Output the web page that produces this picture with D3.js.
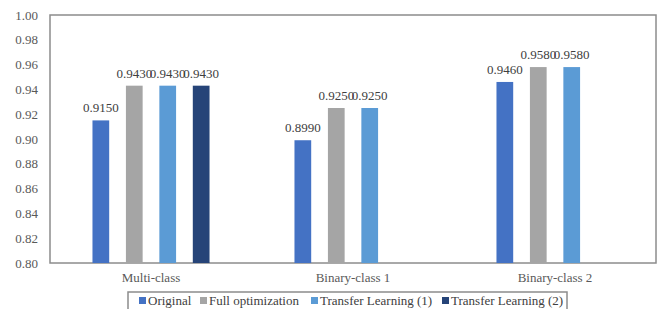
<!DOCTYPE html>
<html>
<head>
<meta charset="utf-8">
<script src="https://cdn.jsdelivr.net/npm/d3@7"></script>
<style>
  body { margin: 0; background: #fff; }
  svg text { font-family: "Liberation Serif", "Times New Roman", serif !important; }
</style>
</head>
<body>
<svg></svg>
<script>
//Chart data.
var categories = ["Multi-class", "Binary-class 1", "Binary-class 2"];
var series = ["Original", "Full optimization", "Transfer Learning (1)", "Transfer Learning (2)"];
var colors = ["#4472C4", "#A5A5A5", "#5B9BD5", "#264478"];
//One row per category, one value per series (null = no bar).
var values = [
  [0.915, 0.943, 0.943, 0.943],
  [0.899, 0.925, 0.925, null],
  [0.946, 0.958, 0.958, null]
];
var yTicks = [0.80, 0.82, 0.84, 0.86, 0.88, 0.90, 0.92, 0.94, 0.96, 0.98, 1.00];

var w = 661, h = 309;
var plot = {left: 50, right: 656, top: 15, bottom: 263};

var svg = d3.select("svg").attr("width", w).attr("height", h);

var x0 = d3.scaleBand().domain(categories).range([plot.left, plot.right]);
var x1 = d3.scaleBand().domain(series).range([0, x0.bandwidth()])
  .paddingInner(0.5).paddingOuter(1.27);
var y = d3.scaleLinear().domain([0.8, 1.0]).range([plot.bottom, plot.top]);

//Plot area frame.
svg.append("rect")
  .attr("x", plot.left).attr("y", plot.top)
  .attr("width", plot.right - plot.left).attr("height", plot.bottom - plot.top)
  .attr("fill", "none").attr("stroke", "#8c8c8c").attr("stroke-width", 1.5);

//Y axis labels only (no ticks drawn).
var yAxis = svg.append("g")
  .attr("transform", "translate(" + plot.left + ",0)")
  .call(d3.axisLeft(y).tickValues(yTicks).tickFormat(d3.format(".2f")).tickSize(0).tickPadding(12));
yAxis.select(".domain").remove();
yAxis.selectAll("text").attr("fill", "#595959").attr("font-size", 13);

//X axis category labels.
var xAxis = svg.append("g")
  .attr("transform", "translate(0," + plot.bottom + ")")
  .call(d3.axisBottom(x0).tickSize(0).tickPadding(10));
xAxis.select(".domain").remove();
xAxis.selectAll("text").attr("fill", "#595959").attr("font-size", 13);

//Flatten into bar records.
var bars = [];
categories.forEach((c, ci) => {
  series.forEach((s, si) => {
    if (values[ci][si] != null) bars.push({cat: c, ser: s, si: si, v: values[ci][si]});
  });
});

svg.append("g").selectAll("rect")
  .data(bars)
  .enter().append("rect")
    .attr("x", d => x0(d.cat) + x1(d.ser))
    .attr("y", d => y(d.v))
    .attr("width", x1.bandwidth())
    .attr("height", d => plot.bottom - y(d.v))
    .attr("fill", d => colors[d.si]);

svg.append("g").selectAll("text")
  .data(bars)
  .enter().append("text")
    .text(d => d.v.toFixed(4))
    .attr("x", d => x0(d.cat) + x1(d.ser) + x1.bandwidth() / 2)
    .attr("y", d => y(d.v) - 8)
    .attr("text-anchor", "middle")
    .attr("font-size", 13)
    .attr("fill", "#404040");

//Legend with a box, at the bottom.
var legend = svg.append("g");
var legendX = [139, 200, 311, 442];
legend.append("rect")
  .attr("x", 128).attr("y", 292).attr("width", 439).attr("height", 22)
  .attr("fill", "none").attr("stroke", "#8c8c8c").attr("stroke-width", 1.5);
series.forEach((s, i) => {
  legend.append("rect")
    .attr("x", legendX[i]).attr("y", 297).attr("width", 7).attr("height", 7)
    .attr("fill", colors[i]);
  legend.append("text")
    .text(s)
    .attr("x", legendX[i] + 9).attr("y", 305)
    .attr("font-size", 13)
    .attr("fill", "#404040");
});
</script>
</body>
</html>
